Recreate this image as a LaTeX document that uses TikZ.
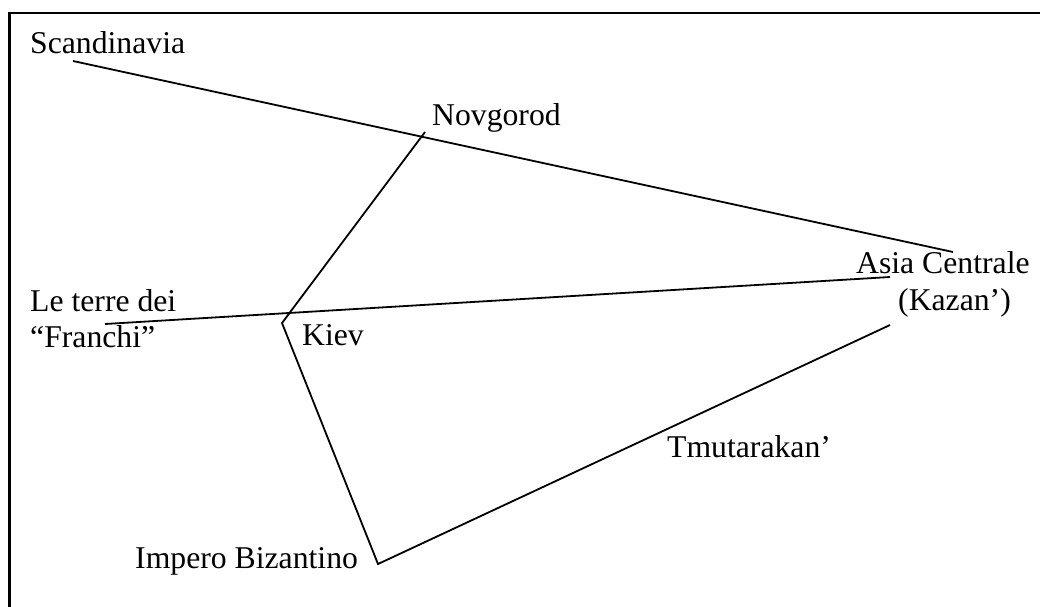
\documentclass[tikz,border=0pt]{standalone}
\usepackage{fontspec}
\setmainfont{Liberation Serif}
\tikzset{
  lbl/.style={anchor=base west, inner sep=0pt, font=\fontsize{31.7}{38}\selectfont},
  route/.style={line width=1.8pt, line join=miter},
  frame/.style={line width=2.6pt}
}
\begin{document}
\begin{tikzpicture}[x=1pt,y=-1pt]
\useasboundingbox (0,0) rectangle (1040,606);
\clip (0,0) rectangle (1040,606);
\draw[frame] (9.5,13) rectangle (1060,630);
% labels
\node[lbl] (scan) at (30,53) {Scandinavia};
\node[lbl] (nov) at (432,125) {Novgorod};
\node[lbl] (asia) at (856,273) {Asia Centrale};
\node[lbl] (kazan) at (898,310) {(Kazan’)};
\node[lbl] (terre) at (30,311) {Le terre dei};
\node[lbl] (franchi) at (30,347) {“Franchi”};
\node[lbl] (kiev) at (302,345) {Kiev};
\node[lbl] (imp) at (135,568) {Impero Bizantino};
\node[lbl] (tmu) at (667,457) {Tmutarakan’};
% route points
\coordinate (pScan) at (73,61);
\coordinate (pAsia1) at (953,252);
\coordinate (pNov) at (425,132);
\coordinate (pKiev) at (282,323);
\coordinate (pFr) at (105,324);
\coordinate (pAsia2) at (890,277);
\coordinate (pImp) at (378,564);
\coordinate (pAsia3) at (890,325);
% routes
\draw[route] (pScan) -- (pAsia1);
\draw[route] (pFr) -- (pAsia2);
\draw[route] (pNov) -- (pKiev) -- (pImp) -- (pAsia3);
\end{tikzpicture}
\end{document}
